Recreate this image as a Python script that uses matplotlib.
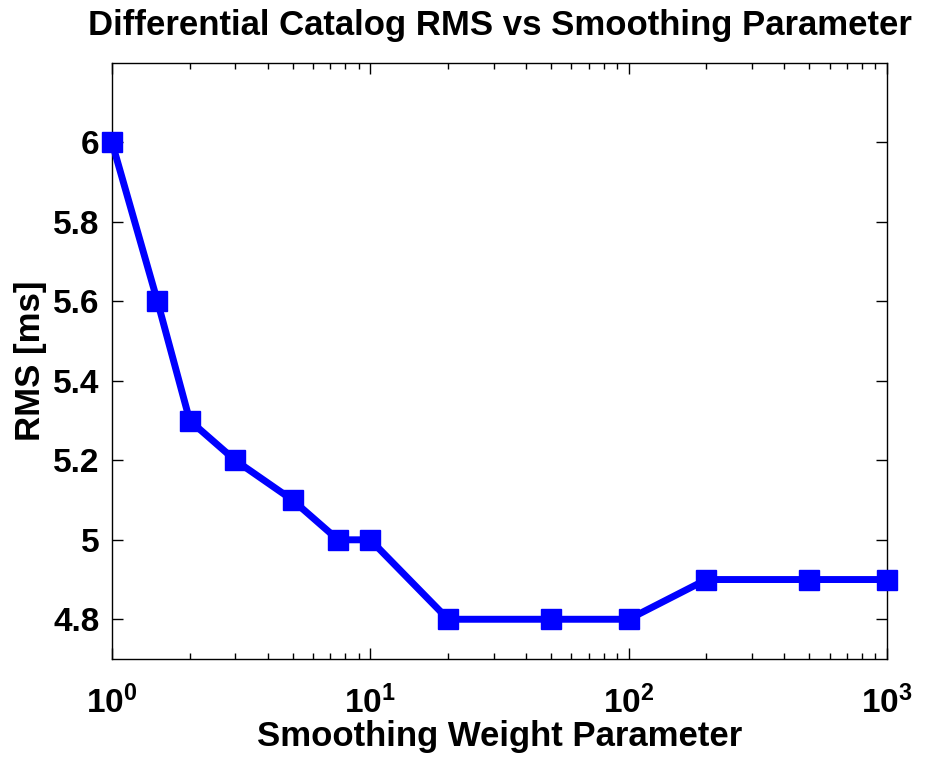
import numpy as np
import matplotlib
matplotlib.use("Agg")
import matplotlib.pyplot as plt
from matplotlib.ticker import FuncFormatter, LogLocator, FixedLocator

plt.rcParams['font.family'] = ['Liberation Sans', 'DejaVu Sans']
plt.rcParams['font.weight'] = 'bold'
plt.rcParams['mathtext.fontset'] = 'custom'
plt.rcParams['mathtext.rm'] = 'Liberation Sans:bold'
plt.rcParams['mathtext.bf'] = 'Liberation Sans:bold'
plt.rcParams['mathtext.default'] = 'rm'

# smoothing weights tried and resulting catalog RMS
weights = [1, 1.5, 2, 3, 5, 7.5, 10, 20, 50, 100, 200, 500, 1000]
rms = [6.0, 5.6, 5.3, 5.2, 5.1, 5.0, 5.0, 4.8, 4.8, 4.8, 4.9, 4.9, 4.9]
yticks = [4.8, 5.0, 5.2, 5.4, 5.6, 5.8, 6.0]
ytick_labels = ['4.8', '5', '5.2', '5.4', '5.6', '5.8', '6']

fig = plt.figure(figsize=(9.26, 7.57), dpi=100)
ax = fig.add_axes([112/926, 1-659/757, (887-112)/926, (659-63)/757])

ax.semilogx(weights, rms, color='#0000ff', linewidth=5, marker='s',
            markersize=14, markerfacecolor='#0000ff', markeredgecolor='#0000ff',
            clip_on=False, zorder=3)

ax.set_xlim(1, 1000)
ax.set_ylim(4.7, 6.2)
ax.yaxis.set_major_locator(FixedLocator(yticks))
ax.set_yticklabels(ytick_labels)
ax.xaxis.set_major_locator(LogLocator(base=10, numticks=10))
ax.xaxis.set_minor_locator(LogLocator(base=10, subs=np.arange(2, 10), numticks=10))
ax.xaxis.set_major_formatter(FuncFormatter(lambda v, p: r'$10^{%d}$' % int(round(np.log10(v)))))

ax.tick_params(which='both', direction='in', top=True, right=True, labelsize=24)
ax.tick_params(which='major', length=8, width=1)
ax.tick_params(which='minor', length=4, width=1)
ax.tick_params(axis='x', which='major', pad=19)
ax.tick_params(axis='y', which='major', pad=9)
for s in ax.spines.values():
    s.set_linewidth(1)

ax.set_title('Differential Catalog RMS vs Smoothing Parameter', fontsize=25,
             fontweight='bold', pad=20)
ax.set_xlabel('Smoothing Weight Parameter', fontsize=25, fontweight='bold', labelpad=0)
ax.set_ylabel('RMS [ms]', fontsize=25, fontweight='bold', labelpad=4)

fig.savefig('out.png', dpi=100)
